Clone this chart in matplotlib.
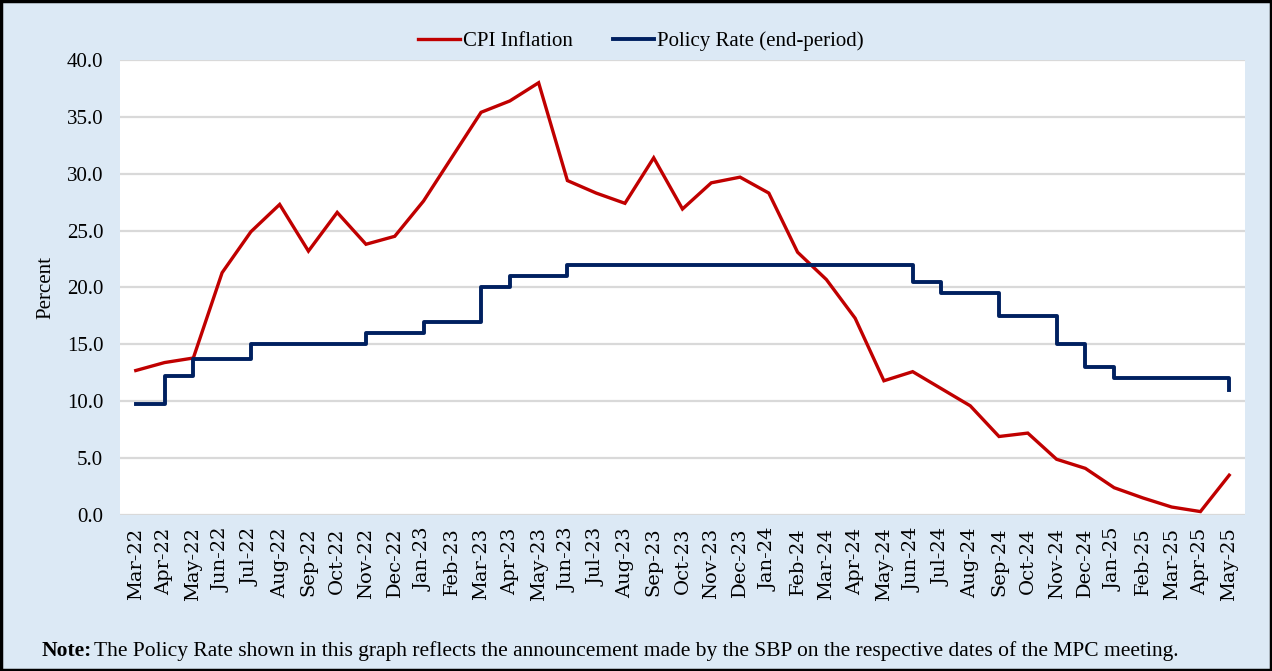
import matplotlib
matplotlib.use("Agg")
import matplotlib.pyplot as plt
from matplotlib.patches import Rectangle
import numpy as np

# months on the x axis
months = ["Mar-22", "Apr-22", "May-22", "Jun-22", "Jul-22", "Aug-22", "Sep-22", "Oct-22",
          "Nov-22", "Dec-22", "Jan-23", "Feb-23", "Mar-23", "Apr-23", "May-23", "Jun-23",
          "Jul-23", "Aug-23", "Sep-23", "Oct-23", "Nov-23", "Dec-23", "Jan-24", "Feb-24",
          "Mar-24", "Apr-24", "May-24", "Jun-24", "Jul-24", "Aug-24", "Sep-24", "Oct-24",
          "Nov-24", "Dec-24", "Jan-25", "Feb-25", "Mar-25", "Apr-25", "May-25"]

# CPI inflation, YoY percent
cpi = [12.7, 13.4, 13.8, 21.3, 24.9, 27.3, 23.2, 26.6, 23.8, 24.5, 27.6, 31.5, 35.4,
       36.4, 38.0, 29.4, 28.3, 27.4, 31.4, 26.9, 29.2, 29.7, 28.3, 23.1, 20.7, 17.3,
       11.8, 12.6, 11.1, 9.6, 6.9, 7.2, 4.9, 4.1, 2.4, 1.5, 0.7, 0.3, 3.5]

# policy rate (end-period), percent
policy = [9.75, 12.25, 13.75, 13.75, 15, 15, 15, 15, 16, 16, 17, 17, 20, 21, 21, 22,
          22, 22, 22, 22, 22, 22, 22, 22, 22, 22, 22, 20.5, 19.5, 19.5, 17.5, 17.5,
          15, 13, 12, 12, 12, 12, 11]

bg = "#DCE9F5"
red = "#C00000"
navy = "#002060"
serif = ["Liberation Serif", "DejaVu Serif"]

fig = plt.figure(figsize=(12.72, 6.71), dpi=100, facecolor=bg)
ax = fig.add_axes([0.0943, 0.2325, 0.8845, 0.6781])
ax.set_facecolor("white")

x = np.arange(len(months))
l1, = ax.plot(x, cpi, color=red, lw=2.4, label="CPI Inflation", solid_joinstyle="miter")
l2, = ax.plot(x, policy, color=navy, lw=2.8, drawstyle="steps-post",
              label="Policy Rate (end-period)")

ax.set_xlim(-0.55, 38.55)
ax.set_ylim(0, 40)
ax.set_yticks(np.arange(0, 41, 5))
ax.set_yticklabels([f"{v:.1f}" for v in np.arange(0, 41, 5)], family=serif, fontsize=15)
ax.set_xticks(x)
ax.set_xticklabels(months, rotation=90, family="DejaVu Serif", fontsize=14)
ax.tick_params(axis="x", length=0, pad=9)
ax.tick_params(axis="y", length=0, pad=12)
ax.grid(axis="y", color="#D9D9D9", lw=1.6)
ax.set_axisbelow(True)
for s in ax.spines.values():
    s.set_visible(False)
ax.set_ylabel("Percent", family=serif, fontsize=15, labelpad=8)

fig.legend(handles=[l1, l2], loc="center", bbox_to_anchor=(0.504, 0.938), ncol=2,
           frameon=False, prop={"family": serif, "size": 15}, handlelength=2.0,
           columnspacing=1.9, handletextpad=0.15)

fig.text(0.033, 0.03, "Note:", family=serif, fontsize=15.5, fontweight="bold",
         va="center")
fig.text(0.074, 0.03, "The Policy Rate shown in this graph reflects the announcement made by the SBP on the respective dates of the MPC meeting.",
         family=serif, fontsize=15.5, va="center")

fig.patches.append(Rectangle((0.001, 0.001), 0.998, 0.997, transform=fig.transFigure,
                             fill=False, edgecolor="black", lw=2.5))

fig.savefig("out.png", dpi=100, facecolor=bg)
